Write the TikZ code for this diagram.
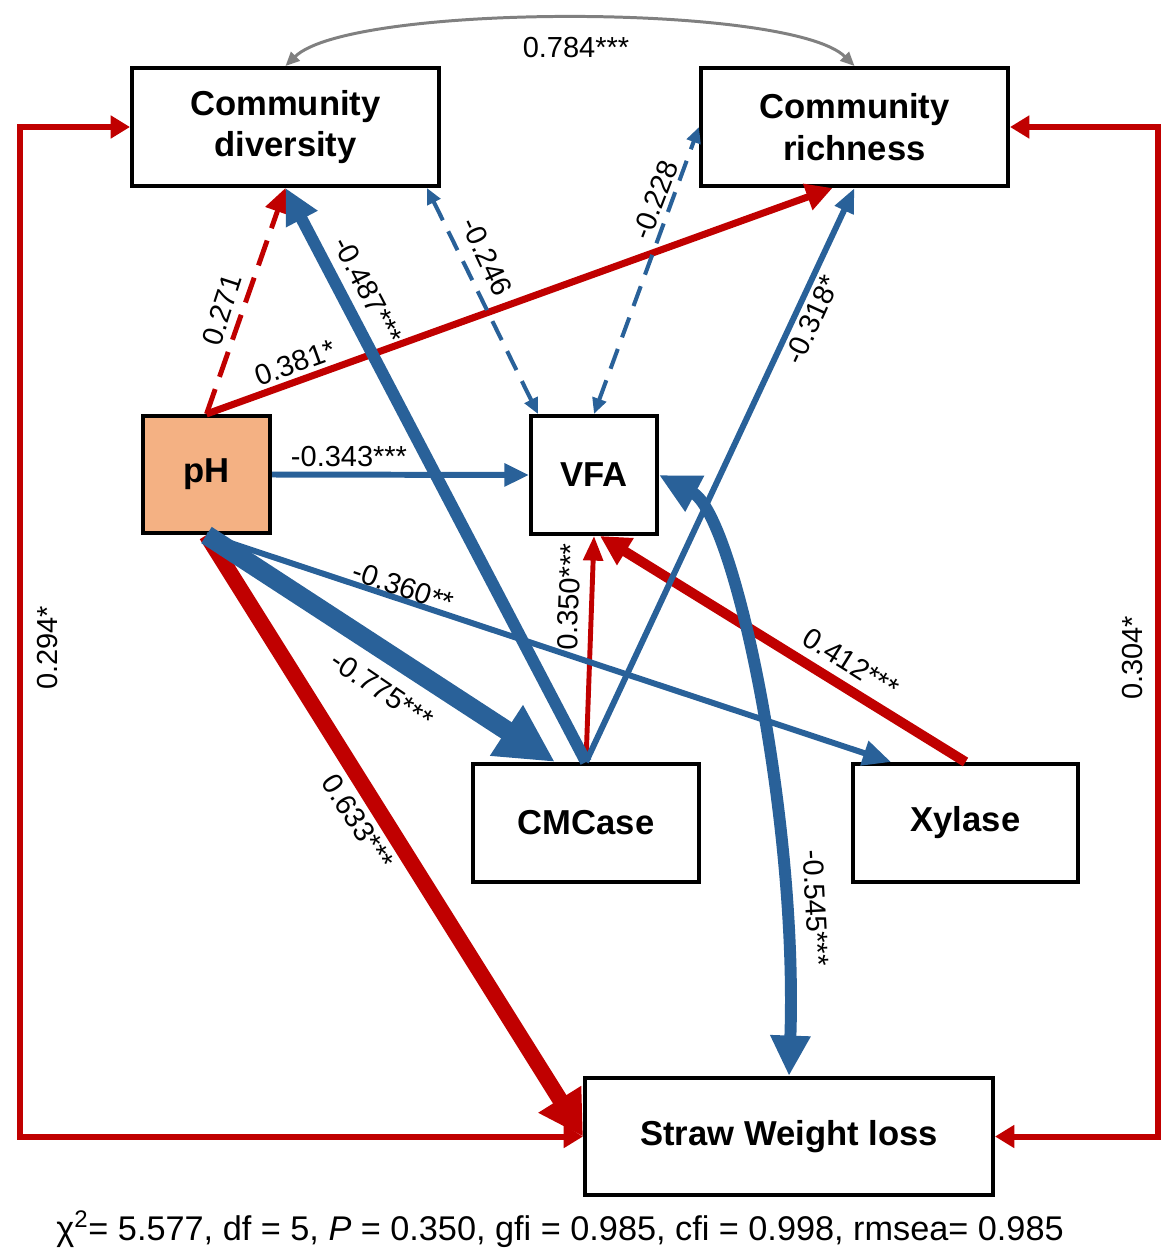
\documentclass[tikz,border=0pt]{standalone}
\usepackage{fontspec}
\setmainfont{Liberation Sans}
\usetikzlibrary{arrows.meta,calc}
\definecolor{semred}{RGB}{192,0,0}
\definecolor{semblue}{RGB}{41,97,153}
\definecolor{phfill}{RGB}{244,177,131}

\begin{document}
\begin{tikzpicture}[x=0.02cm,y=-0.02cm]
\tikzset{ box/.style={draw, line width=2.3pt, fill=white, inner sep=0pt, align=center,
            minimum height=2.36cm, font=\bfseries\fontsize{19.7}{23.8}\selectfont},
          lab/.style={inner sep=0pt, font=\fontsize{16.5}{19}\selectfont},
          tip/.style 2 args={-{Triangle[length=#1pt,width=#2pt]}},
          tips/.style 2 args={{Triangle[length=#1pt,width=#2pt]}-{Triangle[length=#1pt,width=#2pt]}},
        }

\useasboundingbox (0,0) rectangle (1169,1257);

% variables
\node [box, minimum width=6.14cm] (CD) at (285.5,127) {Community\\diversity};
\node [box, minimum width=6.14cm] (CR) at (854.5,127) {Community\\richness};
\node [box, minimum width=2.54cm, minimum height=2.34cm, fill=phfill] (pH) at (206.5,474.5) {pH};
\node [box, minimum width=2.52cm] (VFA) at (594,475) {VFA};
\node [box, minimum width=4.52cm] (CMCase) at (586,823) {CMCase};
\node [box, minimum width=4.50cm] (Xylase) at (965.5,823) {Xylase};
\node [box, minimum width=8.16cm, minimum height=2.34cm] (SWL) at (789,1136.5) {Straw Weight loss};

\coordinate (lturn) at (20,127);
\coordinate (rturn) at (1158,127);

% covariance
\draw [gray, line width=1.7pt, tips={8}{7}] (CD.north) .. controls (350,3) and (790,3) .. (CR.north);
\node [lab] (l784) at (576,48) {0.784***};

% positive paths
\draw [semred, line width=3.4pt, tips={11}{12.5}] (CD.west) -- (lturn) |- (SWL.west);
\draw [semred, line width=3.4pt, tips={11}{12.5}] (CR.east) -- (rturn) |- (SWL.east);
\draw [semred, line width=2.8pt, dash pattern=on 15pt off 7.4pt, tip={14}{14}] (pH.north) -- (CD.south);
\draw [semred, line width=4pt, tip={15}{15}] (pH.north) -- ($(CR.south)+(-22,0)$);
\draw [semred, line width=9pt, tip={25}{27}] (pH.south) -- (SWL.west);
\draw [semred, line width=2.8pt, tip={14}{11}] (CMCase.north) -- (VFA.south);
\draw [semred, line width=5.7pt, tip={17}{17}] (Xylase.north) -- ($(VFA.south)+(6,0)$);

% negative paths
\draw [semblue, line width=6.8pt, tip={20}{19}] (CMCase.north) -- (CD.south);
\draw [semblue, line width=3.4pt, tip={14}{11}] (CMCase.north) -- (CR.south);
\draw [semblue, line width=3.4pt, tip={14}{12.5}] (pH.east) -- (VFA.west);
\draw [semblue, line width=11pt, tip={33}{32}] (pH.south) -- ($(CMCase.north)+(-31,0)$);
\draw [semblue, line width=3.4pt, tip={16}{14}] (pH.south) -- ($(Xylase.north west)+(40,0)$);
\draw [semblue, line width=2.3pt, dash pattern=on 12pt off 7pt, tips={9}{8}] ($(CD.south east)+(-14,0)$) -- ($(VFA.north west)+(9,0)$);
\draw [semblue, line width=2.3pt, dash pattern=on 12pt off 7pt, tips={9}{8}] (VFA.north) -- (CR.west);
\draw [semblue, line width=6.8pt, tips={23}{21.5}] (VFA.east) .. controls (735,515) and (798,820) .. (SWL.north);

% coefficients
\node [lab, rotate=90] (l294) at (48,648) {0.294*};
\node [lab, rotate=90] (l304) at (1133,658) {0.304*};
\node [lab, rotate=72] (l271) at (222,310) {0.271};
\node [lab, rotate=20] (l381) at (295,363) {0.381*};
\node [lab, rotate=-62.5] (l487) at (368,290) {-0.487***};
\node [lab, rotate=-65] (l246) at (487,257) {-0.246};
\node [lab, rotate=69] (l228) at (655,200) {-0.228};
\node [lab, rotate=65.5] (l318) at (812,320) {-0.318*};
\node [lab] (l343) at (349,457) {-0.343***};
\node [lab, rotate=-18.7] (l360) at (403,587) {-0.360**};
\node [lab, rotate=-34] (l775) at (382,690) {-0.775***};
\node [lab, rotate=88] (l350) at (569,597) {0.350***};
\node [lab, rotate=-32] (l412) at (851,663) {0.412***};
\node [lab, rotate=-57] (l633) at (358,822) {0.633***};
\node [lab, rotate=-87] (l545) at (816,908) {-0.545***};

% fit indices
\node [lab, font=\fontsize{19.5}{23}\selectfont] (fit) at (560,1229) {χ\textsuperscript{2}= 5.577, df = 5, \textit{P} = 0.350, gfi = 0.985, cfi = 0.998, rmsea= 0.985};

\end{tikzpicture}
\end{document}
